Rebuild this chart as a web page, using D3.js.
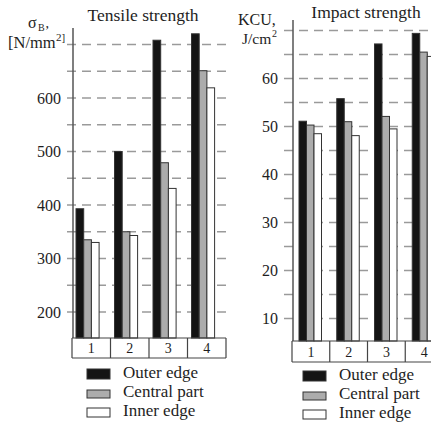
<!DOCTYPE html>
<html lang="en">
<head>
<meta charset="UTF-8">
<title>Tensile and impact strength</title>
<script src="https://d3js.org/d3.v7.min.js"></script>
<style>
  body { margin: 0; background: #fff; }
  svg { display: block; background: #fff; }
  .grid line { stroke: #9a9a9a; stroke-width: 1.5; stroke-dasharray: 9,6; }
  .lbl { fill: #1e1e1e; }
</style>
</head>
<body>
<svg id="chart" width="431" height="422" font-family="Liberation Serif, Times New Roman, serif"></svg>
<script>
// chart values
const categories = ["1", "2", "3", "4"];
const seriesNames = ["Outer edge", "Central part", "Inner edge"];
const seriesFill = ["#141414", "#acacac", "#ffffff"];

const tensileOuter = [393, 500, 708, 720];
const tensileCentral = [335, 350, 479, 651];
const tensileInner = [330, 343, 431, 619];
const tensileTicks = [200, 300, 400, 500, 600];
const tensileGrid = [200, 250, 300, 350, 400, 450, 500, 550, 600, 650, 700];

const impactOuter = [51.1, 55.8, 67.2, 69.4];
const impactCentral = [50.3, 51.0, 52.1, 65.5];
const impactInner = [48.5, 48.1, 49.5, 64.6];
const impactTicks = [10, 20, 30, 40, 50, 60];
const impactGrid = [10, 15, 20, 25, 30, 35, 40, 45, 50, 55, 60, 65, 70];

const svg = d3.select("#chart");

function drawPanel(cfg) {
    const g = svg.append("g");
    const y = d3.scaleLinear().domain(cfg.yDomain).range(cfg.yRange);
    const x = d3.scaleBand().domain(categories).range(cfg.xRange);
    const base = cfg.base;

    // dashed grid
    g.append("g").attr("class", "grid")
        .selectAll("line").data(cfg.grid).join("line")
        .attr("x1", cfg.gridX[0]).attr("x2", cfg.gridX[1])
        .attr("y1", d => y(d)).attr("y2", d => y(d));

    // bars
    cfg.series.forEach((vals, si) => {
        g.append("g").selectAll("rect").data(vals).join("rect")
            .attr("x", (d, i) => x(categories[i]) + cfg.barOffset + si * cfg.barW)
            .attr("y", d => y(d))
            .attr("width", cfg.barW)
            .attr("height", d => base - y(d))
            .attr("fill", seriesFill[si])
            .attr("stroke", "#333")
            .attr("stroke-width", 1);
    });

    // vertical axis
    g.append("line")
        .attr("x1", cfg.xRange[0] + 1).attr("x2", cfg.xRange[0] + 1)
        .attr("y1", cfg.axisTop).attr("y2", base)
        .attr("stroke", "#555").attr("stroke-width", 1.5);

    // tick labels
    g.append("g").selectAll("text").data(cfg.ticks).join("text")
        .attr("class", "lbl")
        .attr("x", cfg.tickX).attr("y", d => y(d) + 5.5)
        .attr("text-anchor", "end")
        .attr("font-size", 16)
        .text(d => d);

    // category table under the bars
    const tab = g.append("g");
    [base, base + cfg.rowH].forEach(yy => {
        tab.append("line")
            .attr("x1", cfg.xRange[0]).attr("x2", cfg.xRange[1])
            .attr("y1", yy).attr("y2", yy)
            .attr("stroke", "#444").attr("stroke-width", 1.2);
    });
    tab.selectAll("line.div").data(categories.concat(["end"])).join("line")
        .attr("class", "div")
        .attr("x1", (d, i) => i < 4 ? x(d) : cfg.xRange[1])
        .attr("x2", (d, i) => i < 4 ? x(d) : cfg.xRange[1])
        .attr("y1", base).attr("y2", base + cfg.rowH)
        .attr("stroke", "#444").attr("stroke-width", 1.2);
    tab.selectAll("text").data(categories).join("text")
        .attr("class", "lbl")
        .attr("x", d => x(d) + x.bandwidth() / 2)
        .attr("y", base + cfg.rowH - 5)
        .attr("text-anchor", "middle")
        .attr("font-size", 14)
        .text(d => d);

    // title
    g.append("text").attr("class", "lbl")
        .attr("x", cfg.titleX).attr("y", cfg.titleY)
        .attr("text-anchor", "middle").attr("font-size", 17.5)
        .text(cfg.title);

    // legend
    const sw = [[-9, 10], [-7, 8], [-8, 9]];
    const leg = g.append("g");
    seriesNames.forEach((name, i) => {
        const by = cfg.legY + i * 19;
        leg.append("rect")
            .attr("x", cfg.legX).attr("y", by + sw[i][0])
            .attr("width", 23).attr("height", sw[i][1])
            .attr("fill", seriesFill[i])
            .attr("stroke", "#333").attr("stroke-width", 1);
        leg.append("text").attr("class", "lbl")
            .attr("x", cfg.legX + 36).attr("y", by)
            .attr("font-size", 17)
            .text(name);
    });
    return g;
}

const left = drawPanel({
    yDomain: [200, 600], yRange: [312, 98],
    xRange: [72, 226], base: 338, rowH: 20, axisTop: 28,
    grid: tensileGrid, gridX: [67, 226],
    ticks: tensileTicks, tickX: 61,
    series: [tensileOuter, tensileCentral, tensileInner],
    barOffset: 4, barW: 7.7,
    title: "Tensile strength", titleX: 143, titleY: 21,
    legX: 87, legY: 378
});

const right = drawPanel({
    yDomain: [10, 60], yRange: [318.5, 78.5],
    xRange: [292, 443], base: 341, rowH: 21, axisTop: 20,
    grid: impactGrid, gridX: [284, 431],
    ticks: impactTicks, tickX: 278,
    series: [impactOuter, impactCentral, impactInner],
    barOffset: 7, barW: 7.5,
    title: "Impact strength", titleX: 366, titleY: 18,
    legX: 303, legY: 380
});

// y-axis unit labels, pieces kept as separate texts
left.append("text").attr("class", "lbl").attr("x", 28).attr("y", 28)
    .attr("font-size", 16).text("σ");
left.append("text").attr("class", "lbl").attr("x", 38).attr("y", 31)
    .attr("font-size", 10).text("B");
left.append("text").attr("class", "lbl").attr("x", 45.5).attr("y", 28)
    .attr("font-size", 14).text(",");

left.append("text").attr("class", "lbl").attr("x", 8).attr("y", 48)
    .attr("font-size", 16.5).text("[N/mm");
left.append("text").attr("class", "lbl").attr("x", 56).attr("y", 41)
    .attr("font-size", 11).text("2]");

right.append("text").attr("class", "lbl").attr("x", 238).attr("y", 25)
    .attr("font-size", 16).text("KCU,");
right.append("text").attr("class", "lbl").attr("x", 242).attr("y", 44)
    .attr("font-size", 15.5).text("J/cm");
right.append("text").attr("class", "lbl").attr("x", 272).attr("y", 37)
    .attr("font-size", 10).text("2");
</script>
</body>
</html>
